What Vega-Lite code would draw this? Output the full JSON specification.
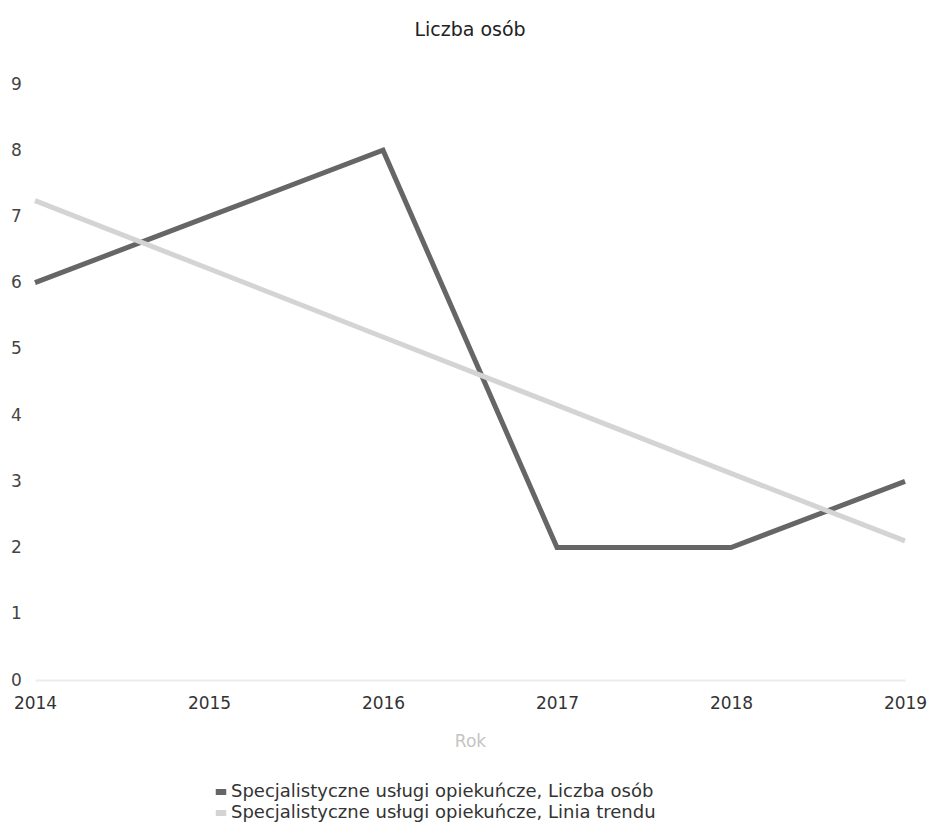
{
  "$schema": "https://vega.github.io/schema/vega-lite/v6.json",
  "autosize": "none",
  "width": 870,
  "height": 596,
  "padding": {"left": 35, "top": 84, "right": 26, "bottom": 147},
  "background": "white",
  "title": {"text": "Liczba osób", "fontSize": 19, "font": "DejaVu Sans", "fontWeight": "normal", "color": "#222", "offset": 35, "anchor": "middle"},
  "config": {"view": {"stroke": null}, "font": "DejaVu Sans"},
  "data": {"values": [
    {"Rok": 2014, "Seria": "Specjalistyczne usługi opiekuńcze, Liczba osób", "Wartosc": 6},
    {"Rok": 2015, "Seria": "Specjalistyczne usługi opiekuńcze, Liczba osób", "Wartosc": 7},
    {"Rok": 2016, "Seria": "Specjalistyczne usługi opiekuńcze, Liczba osób", "Wartosc": 8},
    {"Rok": 2017, "Seria": "Specjalistyczne usługi opiekuńcze, Liczba osób", "Wartosc": 2},
    {"Rok": 2018, "Seria": "Specjalistyczne usługi opiekuńcze, Liczba osób", "Wartosc": 2},
    {"Rok": 2019, "Seria": "Specjalistyczne usługi opiekuńcze, Liczba osób", "Wartosc": 3},
    {"Rok": 2014, "Seria": "Specjalistyczne usługi opiekuńcze, Linia trendu", "Wartosc": 7.24},
    {"Rok": 2015, "Seria": "Specjalistyczne usługi opiekuńcze, Linia trendu", "Wartosc": 6.21},
    {"Rok": 2016, "Seria": "Specjalistyczne usługi opiekuńcze, Linia trendu", "Wartosc": 5.18},
    {"Rok": 2017, "Seria": "Specjalistyczne usługi opiekuńcze, Linia trendu", "Wartosc": 4.15},
    {"Rok": 2018, "Seria": "Specjalistyczne usługi opiekuńcze, Linia trendu", "Wartosc": 3.12},
    {"Rok": 2019, "Seria": "Specjalistyczne usługi opiekuńcze, Linia trendu", "Wartosc": 2.1}
  ]},
  "mark": {"type": "line", "strokeWidth": 5, "strokeJoin": "miter", "strokeCap": "butt"},
  "encoding": {
    "x": {"field": "Rok", "type": "quantitative",
      "scale": {"domain": [2014, 2019], "nice": false, "zero": false},
      "axis": {"values": [2014, 2015, 2016, 2017, 2018, 2019], "format": "d", "title": "Rok",
        "titleColor": "#c4c4c4", "titleFontWeight": "normal", "titleFontSize": 17, "titlePadding": 22, "titleFont": "DejaVu Sans",
        "labelFontSize": 17, "labelColor": "#333", "labelPadding": 15, "ticks": false, "labelFont": "DejaVu Sans",
        "domainColor": "#ececec", "domainWidth": 2, "grid": false, "labelFlush": false}},
    "y": {"field": "Wartosc", "type": "quantitative",
      "scale": {"domain": [0, 9], "nice": false},
      "axis": {"values": [0,1,2,3,4,5,6,7,8,9], "title": null, "domain": false, "ticks": false, "grid": false,
        "labelFontSize": 17, "labelColor": "#444", "labelPadding": 19, "labelAlign": "center", "labelBaseline": "middle", "labelFont": "DejaVu Sans"}},
    "color": {"field": "Seria", "type": "nominal",
      "scale": {"range": ["#666666", "#d4d4d4"]},
      "legend": {"title": null, "orient": "none", "legendX": 177, "legendY": 699, "direction": "vertical",
        "labelFontSize": 18, "labelColor": "#333", "labelLimit": 700, "rowPadding": -8, "labelFont": "DejaVu Sans",
        "symbolType": "stroke", "symbolSize": 110, "symbolStrokeWidth": 6, "labelOffset": 1}}
  }
}
